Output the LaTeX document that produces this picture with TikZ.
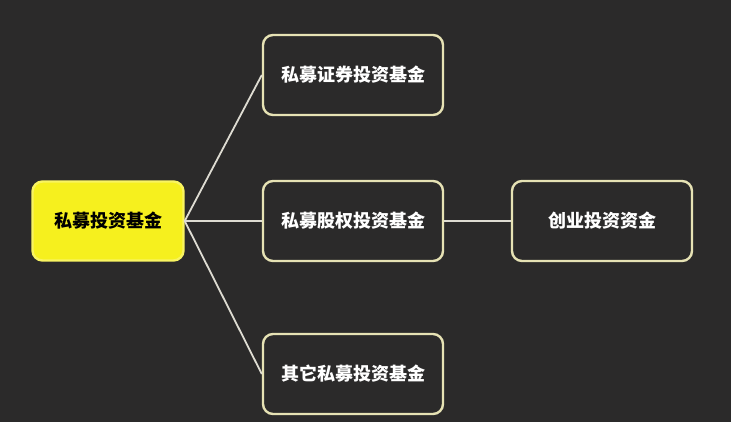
\documentclass[tikz,border=0pt]{standalone}
\usepackage{fontspec}
\newfontfamily\cjk{Noto Sans CJK SC}
\usetikzlibrary{positioning}
\definecolor{bgdark}{HTML}{2B2A2A}
\definecolor{rimcream}{HTML}{E6E2B4}
\definecolor{rootyellow}{HTML}{F6F01E}
\definecolor{linkgray}{HTML}{DEDCD2}

\begin{document}
\begin{tikzpicture}[x=1pt, y=1pt, node distance=245pt, on grid,
    fund/.style={draw=rimcream, line width=2.4pt, rounded corners=10pt, fill=bgdark,
      minimum width=180pt, minimum height=80pt, text=white, font=\cjk\bfseries\fontsize{18}{21}\selectfont},
    root/.style={fund, draw=rootyellow!70!white, fill=rootyellow, text=black, minimum width=151pt, minimum height=79pt},
    link/.style={draw=linkgray, line width=1.8pt}]
        \fill[bgdark] (0,0) rectangle (731,-422);
        \useasboundingbox (0,0) rectangle (731,-422);
        \node[root] (fund) at (108,-221) {私募投资基金};
        \node[fund] (equity) [right=of fund] {私募股权投资基金};
        \node[fund] (secur) [above=146pt of equity] {私募证券投资基金};
        \node[fund] (other) [below=153pt of equity] {其它私募投资基金};
        \node[fund] (venture) [right=249pt of equity] {创业投资资金};

        \path[link]
            (fund.east) -- (secur.west)
            (fund.east) -- (equity.west)
            (fund.east) -- (other.west)
            (equity) -- (venture);
      \end{tikzpicture}
\end{document}
